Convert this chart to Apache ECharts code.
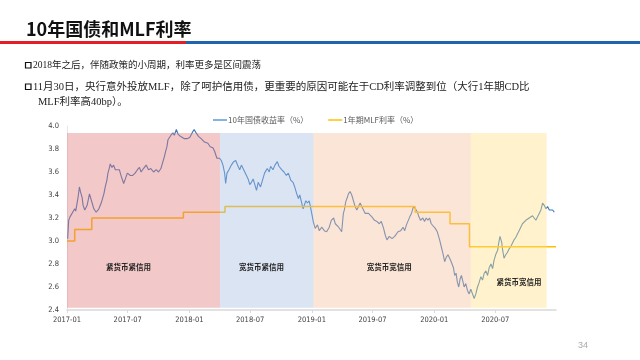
<!DOCTYPE html>
<html>
<head>
<meta charset="utf-8">
<script src="https://cdn.jsdelivr.net/npm/echarts@6/dist/echarts.min.js"></script>
<style>html,body{margin:0;padding:0;background:#fff;}#c{width:640px;height:360px;}</style>
</head>
<body>
<div id="c"></div>
<script>
// ---------- data ----------
const titleText = '10年国债和MLF利率';
const bulletLines = [
  '2018年之后，伴随政策的小周期，利率更多是区间震荡',
  '11月30日，央行意外投放MLF，除了呵护信用债，更重要的原因可能在于CD利率调整到位（大行1年期CD比',
  'MLF利率高40bp）。'
];
const pageNumber = '34';
const seriesNames = ['10年国债收益率（%）', '1年期MLF利率（%）'];
const xTickLabels = ['2017-01','2017-07','2018-01','2018-07','2019-01','2019-07','2020-01','2020-07'];
const yTickLabels = ['2.4','2.6','2.8','3.0','3.2','3.4','3.6','3.8','4.0'];

const yieldDates = [
'2017-01-03','2017-01-06','2017-01-10','2017-01-15','2017-01-24','2017-01-27','2017-02-03','2017-02-07','2017-02-10','2017-02-15',
'2017-02-18','2017-02-23','2017-03-02','2017-03-09','2017-03-15','2017-03-22','2017-03-29','2017-04-06','2017-04-13','2017-04-21',
'2017-04-25','2017-04-30','2017-05-03','2017-05-06','2017-05-10','2017-05-15','2017-05-20','2017-05-25','2017-05-30','2017-06-06',
'2017-06-12','2017-06-19','2017-06-24','2017-06-30','2017-07-09','2017-07-16','2017-07-23','2017-07-30','2017-08-05','2017-08-10',
'2017-08-17','2017-08-25','2017-09-01','2017-09-08','2017-09-16','2017-09-24','2017-10-01','2017-10-08','2017-10-14','2017-10-18',
'2017-10-22','2017-10-26','2017-10-29','2017-11-03','2017-11-07','2017-11-13','2017-11-17','2017-11-23','2017-11-28','2017-12-05',
'2017-12-10','2017-12-17','2017-12-25','2018-01-02','2018-01-09','2018-01-15','2018-01-21','2018-01-28','2018-02-05','2018-02-15',
'2018-02-25','2018-03-04','2018-03-12','2018-03-17','2018-03-24','2018-03-27','2018-04-01','2018-04-06','2018-04-11','2018-04-16',
'2018-04-19','2018-04-23','2018-04-29','2018-05-06','2018-05-13','2018-05-19','2018-05-26','2018-05-31','2018-06-05','2018-06-10',
'2018-06-15','2018-06-20','2018-06-25','2018-06-30','2018-07-05','2018-07-10','2018-07-15','2018-07-20','2018-07-25','2018-08-01',
'2018-08-07','2018-08-13','2018-08-21','2018-08-27','2018-08-31','2018-09-07','2018-09-13','2018-09-20','2018-09-25','2018-10-03',
'2018-10-10','2018-10-17','2018-10-23','2018-10-30','2018-11-06','2018-11-11','2018-11-17','2018-11-22','2018-11-26','2018-12-02',
'2018-12-06','2018-12-10','2018-12-14','2018-12-19','2018-12-24','2018-12-27','2019-01-02','2019-01-05','2019-01-11','2019-01-18',
'2019-01-23','2019-01-31','2019-02-07','2019-02-14','2019-02-22','2019-02-28','2019-03-07','2019-03-12','2019-03-16','2019-03-22',
'2019-03-27','2019-03-31','2019-04-05','2019-04-08','2019-04-12','2019-04-17','2019-04-20','2019-04-25','2019-04-30','2019-05-05',
'2019-05-10','2019-05-15','2019-05-20','2019-05-25','2019-05-30','2019-06-04','2019-06-09','2019-06-14','2019-06-19','2019-06-24',
'2019-06-29','2019-07-07','2019-07-14','2019-07-21','2019-07-27','2019-08-03','2019-08-08','2019-08-13','2019-08-20','2019-08-28',
'2019-09-05','2019-09-15','2019-09-23','2019-09-30','2019-10-05','2019-10-10','2019-10-15','2019-10-20','2019-10-25','2019-10-29',
'2019-11-01','2019-11-06','2019-11-12','2019-11-15','2019-11-21','2019-11-28','2019-12-03','2019-12-08','2019-12-13','2019-12-18',
'2019-12-23','2019-12-28','2020-01-04','2020-01-10','2020-01-17','2020-01-22','2020-01-27','2020-02-01','2020-02-06','2020-02-11',
'2020-02-16','2020-02-19','2020-02-23','2020-02-27','2020-03-02','2020-03-06','2020-03-10','2020-03-14','2020-03-18','2020-03-22',
'2020-03-27','2020-03-30','2020-04-04','2020-04-09','2020-04-14','2020-04-19','2020-04-24','2020-04-29','2020-05-04','2020-05-09',
'2020-05-14','2020-05-19','2020-05-24','2020-05-29','2020-06-03','2020-06-08','2020-06-13','2020-06-18','2020-06-23','2020-06-27',
'2020-07-02','2020-07-08','2020-07-11','2020-07-15','2020-07-20','2020-07-23','2020-07-27','2020-08-01','2020-08-06','2020-08-11',
'2020-08-16','2020-08-21','2020-08-26','2020-08-31','2020-09-05','2020-09-10','2020-09-15','2020-09-20','2020-09-25','2020-09-30',
'2020-10-05','2020-10-10','2020-10-15','2020-10-20','2020-10-25','2020-10-30','2020-11-04','2020-11-09','2020-11-14','2020-11-19',
'2020-11-24','2020-11-29','2020-12-04','2020-12-09','2020-12-14','2020-12-19','2020-12-24'
];
const yieldValues = [
3.02,3.18,3.21,3.20,3.28,3.26,3.38,3.47,3.43,3.38,
3.31,3.27,3.31,3.41,3.35,3.28,3.25,3.28,3.33,3.41,
3.47,3.53,3.59,3.62,3.67,3.64,3.66,3.62,3.63,3.62,
3.56,3.50,3.54,3.59,3.57,3.57,3.59,3.62,3.64,3.60,
3.63,3.66,3.62,3.63,3.60,3.62,3.60,3.63,3.69,3.73,
3.78,3.82,3.88,3.89,3.92,3.94,3.92,3.97,3.93,3.91,
3.92,3.89,3.89,3.90,3.94,3.97,3.94,3.91,3.89,3.86,
3.85,3.82,3.81,3.78,3.72,3.73,3.72,3.70,3.66,3.59,
3.50,3.59,3.62,3.66,3.69,3.70,3.65,3.62,3.66,3.67,
3.60,3.57,3.54,3.49,3.51,3.54,3.49,3.44,3.51,3.47,
3.53,3.59,3.63,3.60,3.65,3.62,3.66,3.69,3.65,3.62,
3.60,3.57,3.59,3.53,3.51,3.47,3.41,3.37,3.40,3.33,
3.28,3.27,3.35,3.33,3.35,3.31,3.22,3.17,3.11,3.14,
3.09,3.12,3.09,3.08,3.12,3.18,3.20,3.15,3.14,3.12,
3.11,3.08,3.24,3.27,3.34,3.38,3.41,3.43,3.40,3.35,
3.30,3.27,3.30,3.33,3.30,3.27,3.24,3.25,3.24,3.24,
3.21,3.18,3.17,3.15,3.17,3.11,3.05,3.01,3.04,3.02,
3.04,3.08,3.09,3.12,3.09,3.14,3.15,3.21,3.24,3.28,
3.30,3.28,3.25,3.22,3.18,3.20,3.17,3.20,3.18,3.20,
3.15,3.14,3.11,3.08,3.01,2.95,2.89,2.82,2.86,2.88,
2.89,2.83,2.82,2.77,2.70,2.72,2.64,2.60,2.67,2.70,
2.64,2.60,2.63,2.57,2.54,2.58,2.57,2.50,2.54,2.60,
2.64,2.69,2.66,2.72,2.74,2.70,2.77,2.80,2.76,2.83,
2.88,2.92,2.98,3.04,2.99,2.92,2.85,2.88,2.90,2.93,
2.95,2.98,3.01,3.03,3.06,3.09,3.12,3.15,3.14,3.18,
3.17,3.20,3.21,3.22,3.20,3.18,3.21,3.24,3.27,3.33,
3.31,3.28,3.30,3.27,3.28,3.27,3.25
];

// MLF: date the rate took effect, and the rate
const mlfDates = ['2017-01-01','2017-01-24','2017-03-16','2017-12-14','2018-04-17','2019-11-05','2020-02-17','2020-04-15','2020-12-29'];
const mlfRates = [3.00, 3.10, 3.20, 3.25, 3.30, 3.25, 3.15, 2.95, 2.95];

// policy regimes
const regimeNames = ['紧货币紧信用', '宽货币紧信用', '宽货币宽信用', '紧货币宽信用'];
const regimeStarts = ['2017-01-01', '2018-04-02', '2019-01-06', '2020-04-19'];
const regimeEnds = ['2018-04-02', '2019-01-06', '2020-04-19', '2020-12-01'];

// ---------- chart ----------
function toTime(s) { const p = s.split('-').map(Number); return Date.UTC(p[0], p[1] - 1, p[2] || 1); }
function fmtMonth(v) { const d = new Date(v); const m = d.getUTCMonth() + 1; return d.getUTCFullYear() + '-' + (m < 10 ? '0' + m : m); }

const regimeColors = ['rgba(222,118,118,0.4)', 'rgba(165,188,225,0.4)', 'rgba(245,190,153,0.4)', 'rgba(255,223,128,0.4)'];
const regimeLabelAt = [['2017-07-03', 2.77], ['2018-08-04', 2.77], ['2019-08-20', 2.77], ['2020-09-10', 2.64]];
const bandTop = 3.94, bandBottom = 2.42;

const axisFont = "'Liberation Sans Narrow','DejaVu Sans Condensed','Liberation Sans',sans-serif";
const xTickValues = xTickLabels.map(toTime);
const yieldColor = '#3B78BE', mlfColor = '#FFC000';

const chart = echarts.init(document.getElementById('c'), null, { renderer: 'canvas' });
chart.setOption({
  animation: false,
  backgroundColor: '#ffffff',
  grid: { left: 67, right: 84, top: 126, bottom: 50, containLabel: false },
  legend: {
    data: [
      { name: seriesNames[0], icon: 'rect', itemStyle: { color: '#5B9BD5' } },
      { name: seriesNames[1], icon: 'rect', itemStyle: { color: mlfColor } }
    ],
    left: 208, top: 111,
    itemWidth: 14, itemHeight: 1.5, itemGap: 20,
    textStyle: { fontSize: 8, color: '#595959', fontFamily: "'Noto Sans CJK SC',sans-serif", padding: [0, 0, 0, -4] }
  },
  xAxis: {
    type: 'value',
    min: toTime('2017-01-01'), max: toTime('2020-12-29'),
    axisLine: { show: true, lineStyle: { color: '#d9d9d9', width: 1.5 } },
    axisTick: { show: true, customValues: xTickValues, length: 3, lineStyle: { color: '#d9d9d9' } },
    axisLabel: { customValues: xTickValues, formatter: (v) => fmtMonth(v), fontSize: 7.5, color: '#404040', margin: 6, fontFamily: axisFont },
    splitLine: { show: false }
  },
  yAxis: {
    type: 'value', min: 2.4, max: 4.0, interval: 0.2,
    axisLine: { show: true, lineStyle: { color: '#e6e6e6', width: 1 } },
    axisTick: { show: false },
    axisLabel: { formatter: (v) => yTickLabels[Math.round((v - 2.4) / 0.2)], fontSize: 7.5, color: '#404040', margin: 8, fontFamily: axisFont },
    splitLine: { show: false }
  },
  series: [
    {
      name: seriesNames[0], type: 'line', z: 2,
      showSymbol: false, symbol: 'none',
      lineStyle: { color: yieldColor, width: 1.1 }, itemStyle: { color: yieldColor },
      data: yieldDates.map((d, i) => [toTime(d), yieldValues[i]])
    },
    {
      name: seriesNames[1], type: 'line', z: 2, step: 'end',
      showSymbol: false, symbol: 'none',
      lineStyle: { color: mlfColor, width: 1.5 }, itemStyle: { color: mlfColor },
      data: mlfDates.map((d, i) => [toTime(d), mlfRates[i]])
    },
    {
      name: 'regimes', type: 'line', z: 4, data: [],
      markArea: {
        silent: true, z: 4,
        label: { show: false },
        data: regimeNames.map((n, i) => [
          { name: n, xAxis: toTime(regimeStarts[i]), yAxis: bandTop, itemStyle: { color: regimeColors[i] } },
          { xAxis: toTime(regimeEnds[i]), yAxis: bandBottom }
        ])
      },
      markPoint: {
        silent: true, z: 6,
        symbol: 'circle', symbolSize: 0,
        label: { show: true, position: 'inside', formatter: '{b}', fontSize: 7.5, fontWeight: 'bold', color: '#262626', fontFamily: "'Noto Sans CJK SC',sans-serif" },
        data: regimeNames.map((n, i) => ({ name: n, coord: [toTime(regimeLabelAt[i][0]), regimeLabelAt[i][1]] }))
      }
    }
  ],
  graphic: [
    { type: 'text', x: 26, y: 29, style: { text: titleText, font: "bold 18px 'Noto Sans CJK SC',sans-serif", fill: '#111', verticalAlign: 'middle', align: 'left' } },
    { type: 'rect', shape: { x: 0, y: 41, width: 186, height: 3 }, style: { fill: '#E41E26' } },
    { type: 'rect', shape: { x: 186, y: 41, width: 454, height: 3 }, style: { fill: '#1F64AD' } },
    { type: 'rect', shape: { x: 25.5, y: 62.5, width: 5.5, height: 5.5 }, style: { fill: 'none', stroke: '#111', lineWidth: 1.2 } },
    { type: 'rect', shape: { x: 25.5, y: 84, width: 5.5, height: 5.5 }, style: { fill: 'none', stroke: '#111', lineWidth: 1.2 } },
    { type: 'text', x: 33, y: 65.5, style: { text: bulletLines[0], font: "9.5px 'Liberation Serif','Noto Sans CJK SC',serif", fill: '#222', verticalAlign: 'middle' } },
    { type: 'text', x: 33, y: 87, style: { text: bulletLines[1], font: "10.5px 'Liberation Serif','Noto Sans CJK SC',serif", fill: '#222', verticalAlign: 'middle' } },
    { type: 'text', x: 38, y: 102, style: { text: bulletLines[2], font: "10.5px 'Liberation Serif','Noto Sans CJK SC',serif", fill: '#222', verticalAlign: 'middle' } },
    { type: 'text', x: 578, y: 346, style: { text: pageNumber, font: "9px 'Liberation Sans',sans-serif", fill: '#aaaaaa', verticalAlign: 'middle' } }
  ]
});
</script>
</body>
</html>
